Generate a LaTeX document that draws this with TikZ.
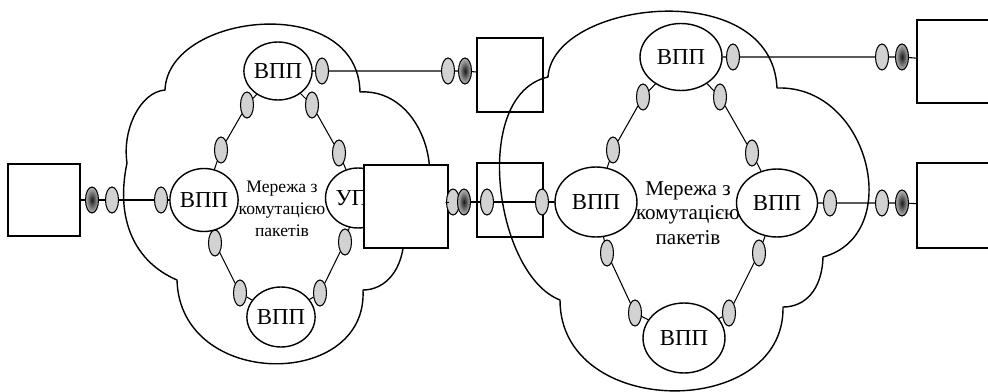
\documentclass[tikz,border=0pt]{standalone}
\usepackage{fontspec}
\setmainfont{Liberation Serif}
\usetikzlibrary{shapes.geometric}
\definecolor{pktgray}{HTML}{D2D2D2}

\begin{document}
\begin{tikzpicture}[
    x=0.02cm,
    y=-0.02cm,
    vuzol/.style={ellipse,draw,line width=0.8pt,fill=white,inner sep=0pt,
      font=\fontsize{13}{15}\selectfont},
    pkt/.style={ellipse,draw,line width=0.6pt,fill=pktgray,inner sep=0pt,
      minimum width=0.26cm,minimum height=0.52cm},
    pktdark/.style={pkt,inner color=black!90,outer color=gray!55},
    abon/.style={rectangle,draw,line width=0.7pt,inner sep=0pt},
    hmara/.style={draw,line width=0.8pt,line cap=round,line join=round},
    lanka/.style={draw,line width=0.6pt,line cap=round}
  ]
    \useasboundingbox (0,0) rectangle (988,392);
    \clip (0,0) rectangle (988,392);
    \fill[white] (0,0) rectangle (988,392);

    % Outlines of the two packet-switched clouds.
    \draw[hmara] (165,90)
      .. controls (168,12) and (358,-8) .. (360,92)
      .. controls (425,88) and (455,190) .. (404,235)
      .. controls (404,270) and (385,290) .. (363,290)
      .. controls (368,390) and (180,390) .. (177,280)
      .. controls (135,262) and (115,220) .. (127,163)
      .. controls (122,130) and (140,92) .. (165,90)
      -- cycle;
    \draw[hmara] (548,77)
      .. controls (553,0) and (772,-25) .. (777,88)
      .. controls (870,85) and (905,235) .. (823,257)
      .. controls (822,290) and (805,307) .. (783,307)
      .. controls (785,420) and (560,420) .. (560,300)
      .. controls (495,275) and (470,95) .. (548,77)
      -- cycle;

    % Switching nodes, left cloud.
    \node[vuzol,minimum width=1.34cm,minimum height=1.16cm] (va) at (278,71) {ВПП};
    \node[vuzol,minimum width=1.30cm,minimum height=1.26cm] (vb) at (204,200) {ВПП};
    \node[vuzol,minimum width=1.36cm,minimum height=1.20cm] (vd) at (281,317) {ВПП};
    \node[vuzol,minimum width=1.30cm,minimum height=1.20cm,
      text width=0.90cm,align=left] (up) at (358,198) {УП};
    \node[font=\fontsize{10}{12.5}\selectfont,align=center] (ta) at (282,209)
      {Мережа з\\комутацією\\пакетів};

    % Switching nodes, right cloud.
    \node[vuzol,minimum width=1.64cm,minimum height=1.34cm] (wa) at (681,57) {ВПП};
    \node[vuzol,minimum width=1.64cm,minimum height=1.40cm] (wb) at (596,202) {ВПП};
    \node[vuzol,minimum width=1.62cm,minimum height=1.36cm] (wc) at (777,203) {ВПП};
    \node[vuzol,minimum width=1.64cm,minimum height=1.40cm] (wd) at (684,338) {ВПП};
    \node[font=\fontsize{12}{14}\selectfont,align=center] (tb) at (688,213)
      {Мережа з\\комутацією\\пакетів};

    % Terminal boxes.
    \node[abon,minimum width=1.44cm,minimum height=1.44cm] (ka) at (44,200) {};
    \node[abon,fill=white,minimum width=1.68cm,minimum height=1.66cm] (kb) at (406,206.5) {};
    \node[abon,minimum width=1.32cm,minimum height=1.48cm] (kc) at (510,75) {};
    \node[abon,minimum width=1.32cm,minimum height=1.48cm] (kd) at (510,200) {};
    \node[abon,minimum width=1.66cm,minimum height=1.66cm] (ke) at (958.5,61.5) {};
    \node[abon,minimum width=1.66cm,minimum height=1.70cm] (kf) at (958.5,205.5) {};

    % Packet marks on the links.
    \foreach \n/\x/\y in {a2/112/200, a3/161/200, b1/322/71, b2/448/71,
        c1/247/105, c2/221/150, d1/312/105, d2/339/153,
        e1/215/243, e2/240/293, f1/345/242, f2/320/293,
        g1/453/202, g3/487/202, g4/542/202,
        h1/733/57, h2/882/57, i1/830/203, i2/882/203,
        j1/643/97, j2/613/150, k1/720/97, k2/752/153,
        l1/607/253, l2/635/313, m1/759/253, m2/729/313}{%
      \node[pkt] (\n) at (\x,\y) {};
    }
    \foreach \n/\x/\y in {a1/92/200, b3/465/71, g2/464/202, h3/902/57, i3/902/203}{%
      \node[pktdark] (\n) at (\x,\y) {};
    }

    % Links.
    \draw[lanka] (ka) -- (a1) -- (a2) -- (a3) -- (vb);
    \draw[lanka] (va) -- (b1) -- (b2) -- (b3) -- (kc);
    \draw[lanka] (va) -- (c1) -- (c2) -- (vb);
    \draw[lanka] (va) -- (d1) -- (d2) -- (up);
    \draw[lanka] (vb) -- (e1) -- (e2) -- (vd);
    \draw[lanka] (up) -- (f1) -- (f2) -- (vd);
    \draw[lanka] (kb) -- (g1);
    \draw[lanka] (g2) -- (g3) -- (g4) -- (wb);
    \draw[lanka] (wa) -- (h1) -- (h2) -- (h3) -- (ke);
    \draw[lanka] (wc) -- (i1) -- (i2) -- (i3) -- (kf);
    \draw[lanka] (wa) -- (j1) -- (j2) -- (wb);
    \draw[lanka] (wa) -- (k1) -- (k2) -- (wc);
    \draw[lanka] (wb) -- (l1) -- (l2) -- (wd);
    \draw[lanka] (wc) -- (m1) -- (m2) -- (wd);
  \end{tikzpicture}
\end{document}
